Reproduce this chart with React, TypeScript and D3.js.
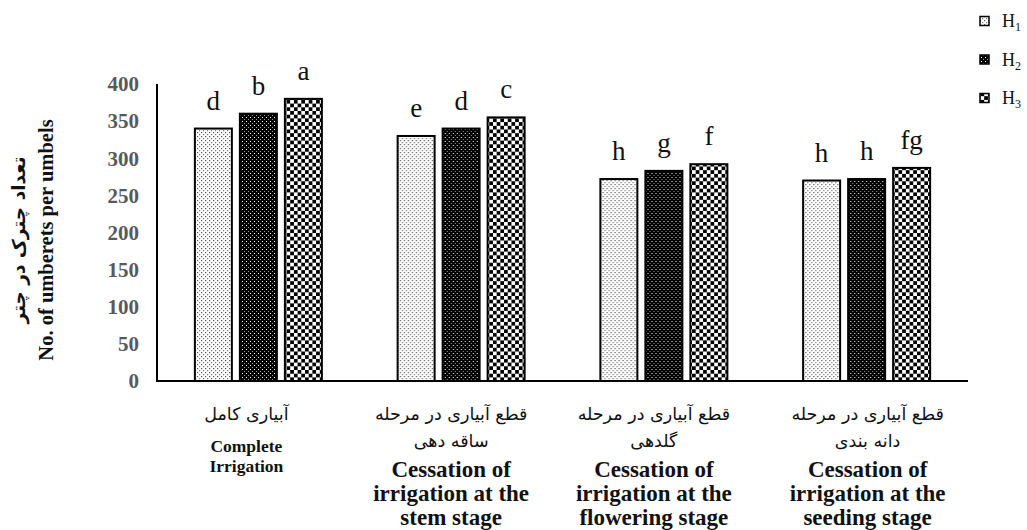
import React from "react";
import * as d3 from "d3";

const categories = ["Complete Irrigation", "Stem stage", "Flowering stage", "Seeding stage"];
const seriesNames = ["H1", "H2", "H3"];
const h1Values = [340, 330, 272, 270];
const h2Values = [360, 340, 283, 272];
const h3Values = [380, 355, 292, 287];
const h1Letters = ["d", "e", "h", "h"];
const h2Letters = ["b", "d", "g", "h"];
const h3Letters = ["a", "c", "f", "fg"];
const yTicks = [0, 50, 100, 150, 200, 250, 300, 350, 400];
const persianLabels = [
  ["آبیاری کامل"],
  ["قطع آبیاری در مرحله", "ساقه دهی"],
  ["قطع آبیاری در مرحله", "گلدهی"],
  ["قطع آبیاری در مرحله", "دانه بندی"],
];
const englishLabels = [
  ["Complete", "Irrigation"],
  ["Cessation of", "irrigation at the", "stem stage"],
  ["Cessation of", "irrigation at the", "flowering stage"],
  ["Cessation of", "irrigation at the", "seeding stage"],
];
const yTitleEn = "No. of umberets per umbels";
const yTitleFa = "تعداد چترک در چتر";

const W = 1027;
const H = 530;
const serif = "Liberation Serif";
const faFont = "DejaVu Sans";

export default function App() {
  const x0 = d3.scaleBand<string>().domain(categories).range([157, 968]).padding(0);
  const x1 = d3
    .scaleBand<string>()
    .domain(seriesNames)
    .range([x0.bandwidth() / 2 - 63.5, x0.bandwidth() / 2 + 63.5])
    .paddingInner(0.178);
  const y = d3.scaleLinear().domain([0, 400]).range([381, 84]);

  const series = [
    { name: "H1", values: h1Values, letters: h1Letters, fill: "url(#pH1)" },
    { name: "H2", values: h2Values, letters: h2Letters, fill: "url(#pH2)" },
    { name: "H3", values: h3Values, letters: h3Letters, fill: "url(#pH3)" },
  ];
  const labelShift = [-12, -10, -10, 1];

  return (
    <svg
      width={W}
      height={H}
      style={{ position: "absolute", left: 0, top: 0, background: "#fff" }}
    >
      <defs>
        <pattern id="pH1" width={4} height={4} patternUnits="userSpaceOnUse">
          <rect width={4} height={4} fill="#fff" />
          <rect x={0} y={0} width={1.2} height={1.2} fill="#555" />
          <rect x={2} y={2} width={1.2} height={1.2} fill="#777" />
        </pattern>
        <pattern id="pH2" width={4} height={4} patternUnits="userSpaceOnUse">
          <rect width={4} height={4} fill="#000" />
          <rect x={1} y={1} width={1} height={1} fill="#fff" />
          <rect x={3} y={3} width={1} height={1} fill="#999" />
        </pattern>
        <pattern id="pH3" width={7.4} height={7.4} patternUnits="userSpaceOnUse">
          <rect width={7.4} height={7.4} fill="#fff" />
          <rect x={0} y={0} width={3.7} height={3.7} fill="#000" />
          <rect x={3.7} y={3.7} width={3.7} height={3.7} fill="#000" />
        </pattern>
      </defs>

      {/* Y-axis title */}
      <text
        transform="translate(25,240) rotate(-90)"
        textAnchor="middle"
        fontFamily={faFont}
        fontWeight="bold"
        fontSize={18.5}
        fill="#111"
      >
        {yTitleFa}
      </text>
      <text
        transform="translate(53,240) rotate(-90)"
        textAnchor="middle"
        fontFamily={serif}
        fontWeight="bold"
        fontSize={20.5}
        fill="#111"
      >
        {yTitleEn}
      </text>

      {/* Y ticks */}
      {yTicks.map((t) => (
        <text
          key={t}
          x={139}
          y={y(t)}
          dy="0.35em"
          textAnchor="end"
          fontFamily={serif}
          fontWeight="bold"
          fontSize={21}
          fill="#595959"
        >
          {t}
        </text>
      ))}

      {/* Bars */}
      {categories.map((c, i) => (
        <g key={c} transform={`translate(${x0(c)},0)`}>
          {series.map((s) => (
            <g key={s.name}>
              <rect
                x={x1(s.name)}
                y={y(s.values[i])}
                width={x1.bandwidth()}
                height={y(0) - y(s.values[i])}
                fill={s.fill}
                stroke="#000"
                strokeWidth={2}
              />
              <text
                x={(x1(s.name) as number) + x1.bandwidth() / 2}
                y={y(s.values[i]) - 19}
                textAnchor="middle"
                fontFamily={serif}
                fontSize={27}
                fill="#111"
              >
                {s.letters[i]}
              </text>
            </g>
          ))}
        </g>
      ))}

      {/* Axes lines */}
      <line x1={157} x2={157} y1={y(400)} y2={y(0)} stroke="#000" strokeWidth={2} />
      <line x1={156} x2={968} y1={y(0)} y2={y(0)} stroke="#000" strokeWidth={2} />

      {/* X labels */}
      {categories.map((c, i) => {
        const cx = (x0(c) as number) + x0.bandwidth() / 2 + labelShift[i];
        const fa = persianLabels[i];
        const en = englishLabels[i];
        const first = i === 0;
        const faY = [420, 447];
        const enY = first ? [452, 472] : [477, 501, 525];
        return (
          <g key={c}>
            {fa.map((l, k) => (
              <text
                key={"fa" + k}
                x={cx}
                y={faY[k]}
                textAnchor="middle"
                fontFamily={faFont}
                fontSize={17.5}
                fill="#111"
              >
                {l}
              </text>
            ))}
            {en.map((l, k) => (
              <text
                key={"en" + k}
                x={cx}
                y={enY[k]}
                textAnchor="middle"
                fontFamily={serif}
                fontWeight="bold"
                fontSize={first ? 17.5 : 23}
                fill="#111"
              >
                {l}
              </text>
            ))}
          </g>
        );
      })}

      {/* Legend */}
      {series.map((s, k) => {
        const ly = 21 + k * 38.5;
        return (
          <g key={s.name}>
            <rect x={980} y={ly - 4.5} width={9} height={9} fill={s.fill} stroke="#000" strokeWidth={1.5} />
            <text x={1002} y={ly + 6} fontFamily={serif} fontSize={18} fill="#111">
              H
              <tspan fontSize={12} dy={4}>
                {s.name.slice(1)}
              </tspan>
            </text>
          </g>
        );
      })}
    </svg>
  );
}
